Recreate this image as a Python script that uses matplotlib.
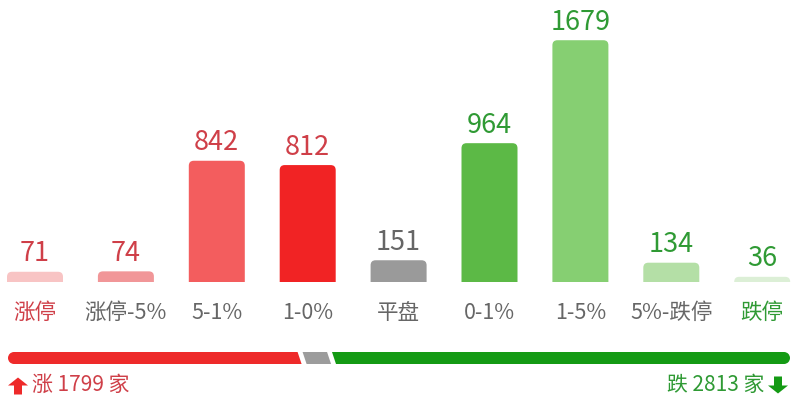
import matplotlib
matplotlib.use("Agg")
import matplotlib.pyplot as plt
from matplotlib.patches import FancyBboxPatch, Polygon
import numpy as np

plt.rcParams['font.family'] = ['Noto Sans CJK SC', 'DejaVu Sans']

categories = ['涨停', '涨停-5%', '5-1%', '1-0%', '平盘', '0-1%', '1-5%', '5%-跌停', '跌停']
values = [71, 74, 842, 812, 151, 964, 1679, 134, 36]
bar_colors = ['#f8c4c4', '#f19698', '#f35d5e', '#f12324', '#9a9a9a',
              '#5cb946', '#86cf72', '#b4dfa6', '#dcefd6']
value_colors = ['#cf3f48'] * 4 + ['#666666'] + ['#2f9a34'] * 4
cat_colors = ['#cf3f48'] + ['#666666'] * 7 + ['#2f9a34']

up_count = 1799
flat_count = 151
down_count = 2813
up_label = '涨 1799 家'
down_label = '跌 2813 家'

W, H = 800, 404
fig = plt.figure(figsize=(W / 100, H / 100), dpi=100)

# bar axes: baseline at y=282 px from top
base_px = 122
ax = fig.add_axes([0, base_px / H, 1, 1 - base_px / H])
px_per_unit = 0.144
x_step = 90.9
x0 = 35
ax.set_xlim(-x0 / x_step, (W - x0) / x_step)
ax.set_ylim(0, (H - base_px) / px_per_unit)
ax.axis('off')

bw = 56 / x_step
r = 5 / x_step
aspect = (1 / px_per_unit) / (1 / x_step)
ext = 12 / px_per_unit
for i, (v, c) in enumerate(zip(values, bar_colors)):
    p = FancyBboxPatch((i - bw / 2, -ext), bw, v + ext,
                       boxstyle=f"round,pad=0,rounding_size={r}",
                       mutation_aspect=aspect, fc=c, ec='none')
    ax.add_patch(p)
    ax.text(i, v + 18 / px_per_unit, str(v), ha='center', va='center',
            fontsize=19.5, color=value_colors[i])

# lower overlay axes in pixel coordinates for labels and summary bar
ax2 = fig.add_axes([0, 0, 1, base_px / H])
ax2.set_xlim(0, W)
off = H - base_px
ax2.set_ylim(base_px, 0)
ax2.axis('off')
for i, (cat, col) in enumerate(zip(categories, cat_colors)):
    ax2.text(x0 + i * x_step, 313 - off, cat, ha='center', va='center',
             fontsize=15.5, color=col)

# summary bar
total = up_count + flat_count + down_count
left, right = 8, 790
gap = 5
avail = right - left - 2 * gap
yc = 358 - off
hh = 6
sl = 2
segs = [up_count, flat_count, down_count]
seg_cols = ['#ee2a2a', '#9c9c9c', '#149a14']
pos = left
for k, (s, c) in enumerate(zip(segs, seg_cols)):
    w = avail * s / total
    a, b = pos, pos + w
    if k == 0:
        poly = [(a + hh, yc - hh), (b - sl, yc - hh), (b + sl, yc + hh), (a + hh, yc + hh)]
        ax2.add_patch(Polygon(poly, closed=True, fc=c, ec='none'))
        ax2.add_patch(plt.Circle((a + hh, yc), hh, fc=c, ec='none'))
    elif k == 1:
        poly = [(a - sl, yc - hh), (b - sl, yc - hh), (b + sl, yc + hh), (a + sl, yc + hh)]
        ax2.add_patch(Polygon(poly, closed=True, fc=c, ec='none'))
    else:
        poly = [(a - sl, yc - hh), (b - hh, yc - hh), (b - hh, yc + hh), (a + sl, yc + hh)]
        ax2.add_patch(Polygon(poly, closed=True, fc=c, ec='none'))
        ax2.add_patch(plt.Circle((b - hh, yc), hh, fc=c, ec='none'))
    pos = b + gap

ty = 385 - off
ax2.text(32, ty, up_label, ha='left', va='center', fontsize=15, color='#cf3f48')
ax2.text(764, ty, down_label, ha='right', va='center', fontsize=15, color='#2f9a34')

# arrows (block arrows)
def block_arrow(cx, cy, up, color):
    s = 1 if up else -1
    pts = [(cx, cy - s * 8.5), (cx + 10, cy - s * 0.5), (cx + 4, cy - s * 0.5),
           (cx + 4, cy + s * 8.5), (cx - 4, cy + s * 8.5), (cx - 4, cy - s * 0.5),
           (cx - 10, cy - s * 0.5)]
    ax2.add_patch(Polygon(pts, closed=True, fc=color, ec='none'))

block_arrow(18, ty + 1, True, '#ee2a2a')
block_arrow(778, ty, False, '#149a14')

fig.savefig('out.png', dpi=100, facecolor='white')
